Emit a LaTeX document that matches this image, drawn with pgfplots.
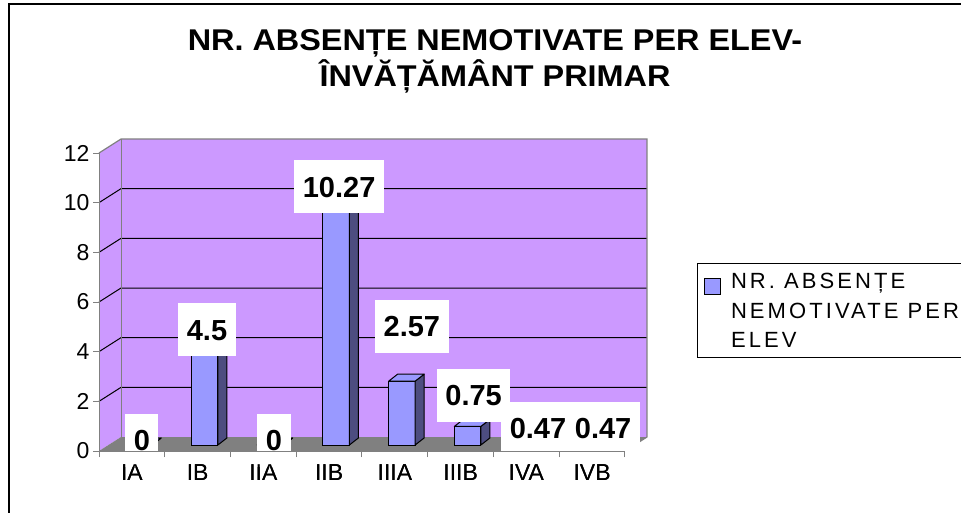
\documentclass[border=0pt]{standalone}
\usepackage{fontspec}
\setmainfont{Liberation Sans}
\newfontfamily\titlefont[FakeStretch=1.08]{Liberation Sans}
\newfontfamily\legfont[LetterSpace=14]{Liberation Sans}
\usepackage{pgfplots}
\usepackage{pgfplotstable}
\pgfplotsset{compat=1.18}

\definecolor{wallpurple}{RGB}{204,153,255}
\definecolor{barblue}{RGB}{153,153,255}
\definecolor{barside}{RGB}{77,77,128}
\definecolor{floorgray}{RGB}{128,128,128}

% offset of the back wall (3D depth)
\tikzset{bk/.style={xshift=22pt,yshift=14pt}}

\pgfplotsset{
    frontaxis/.style={
        at={(99pt,-451pt)}, anchor=south west,
        width=526pt, height=298pt, scale only axis,
        xmin=-0.5, xmax=7.5, ymin=0, ymax=12,
        clip=false,
        axis line style={draw=floorgray, line width=1pt},
        tick align=outside,
        xtick={0,...,7},
        xticklabels={IA,IB,IIA,IIB,IIIA,IIIB,IVA,IVB},
        major x tick style={draw=none},
        minor xtick={-0.5,0.5,...,7.5},
        minor x tick style={draw=floorgray, line width=1pt},
        minor tick length=6pt,
        ytick={0,2,...,12},
        major y tick style={draw=floorgray, line width=1pt},
        major tick length=6pt,
        tick label style={font=\fontsize{23}{27}\selectfont},
        xticklabel style={yshift=-4pt},
        /pgf/number format/assume math mode=true,
    },
}

% class index, value, label offset (pt)
\pgfplotstableread{
x  y      dx   dy
0  0      3    5
1  4.5    2.4  3.3
2  0      3.6  5
3  10.27  3    3
4  2.57   10   55
5  0.75   6    31
6  0.47   4.6  5
7  0.47   4    5
}\absente

\begin{document}
\begin{tikzpicture}
\useasboundingbox (0,0) rectangle (961pt,-512pt);
\clip (0,0) rectangle (961pt,-512pt);
\draw[line width=2.5pt, line join=miter] (9pt,-600pt) -- (9pt,-4pt) -- (1000pt,-4pt);

% walls, floor, y axis and title
\begin{axis}[
    frontaxis, axis on top,
    axis x line*=bottom, axis y line*=left,
    title={NR. ABSENȚE NEMOTIVATE PER ELEV-\\ÎNVĂȚĂMÂNT PRIMAR},
    title style={at={(0.7529,1.396)}, anchor=north, align=center, inner sep=0pt,
        font=\titlefont\bfseries\fontsize{30}{36}\selectfont},
]
\fill[wallpurple] ([bk]axis cs:-0.5,0) rectangle ([bk]axis cs:7.5,12);
\fill[wallpurple] (axis cs:-0.5,0) -- ([bk]axis cs:-0.5,0) -- ([bk]axis cs:-0.5,12)
    -- (axis cs:-0.5,12) -- cycle;
\fill[floorgray] (axis cs:-0.5,0) -- (axis cs:7.5,0) -- ([bk]axis cs:7.5,0)
    -- ([bk]axis cs:-0.5,0) -- cycle;
\pgfplotsinvokeforeach{2,4,6,8,10}{
    \draw[black, line width=1pt] (axis cs:-0.5,#1) -- ([bk]axis cs:-0.5,#1) -- ([bk]axis cs:7.5,#1);
}
\draw[floorgray, line width=1.2pt] (axis cs:-0.5,12) -- ([bk]axis cs:-0.5,12)
    -- ([bk]axis cs:7.5,12) -- ([bk]axis cs:7.5,0) -- (axis cs:7.5,0);
\draw[floorgray, line width=1pt] ([bk]axis cs:-0.5,0) -- ([bk]axis cs:-0.5,12);
\end{axis}

% bars, sitting half way into the depth
\begin{axis}[
    at={(106pt,-445pt)}, anchor=south west,
    width=526pt, height=298pt, scale only axis,
    xmin=-0.5, xmax=7.5, ymin=0, ymax=12,
    hide axis, clip=false,
    /pgf/number format/assume math mode=true,
    legend style={at={(1.1236,0.6107)}, anchor=north west, draw=black, line width=1pt,
        fill=white, font=\legfont\fontsize{22}{29.5}\selectfont,
        inner xsep=6pt, inner ysep=10pt,
        nodes={inner sep=0pt, text depth=}, cells={anchor=west}},
]
\addlegendimage{legend image code/.code={%
    \path[draw=none, fill=none] (0pt,-37pt) rectangle (27pt,37pt);
    \filldraw[fill=barblue, draw=black, line width=1pt] (0pt,16.5pt) rectangle (16pt,32.5pt);}}
\addlegendentry{\parbox[t]{250pt}{NR. ABSENȚE\\NEMOTIVATE PER\\ELEV}}

% side and top faces
\addplot[forget plot, scatter, only marks, mark=*, mark size=0pt,
    mark options={draw=none, fill=none},
    visualization depends on={\thisrow{y} \as \val},
    scatter/@pre marker code/.code={%
        \pgfmathsetmacro\barh{\val*298/12}%
        \filldraw[fill=barside, draw=black, line width=1pt, line join=round]
            (13.25pt,0pt) -- (22.25pt,7pt) -- (22.25pt,{7pt-\barh pt}) -- (13.25pt,{-\barh pt}) -- cycle;
        \filldraw[fill=barblue, draw=black, line width=1pt, line join=round]
            (-13.25pt,0pt) -- (13.25pt,0pt) -- (22.25pt,7pt) -- (-4.25pt,7pt) -- cycle;
    },
    scatter/@post marker code/.code={},
] table[x=x, y=y] {\absente};

% front faces and value labels
\addplot[forget plot, ybar, bar shift=0pt, bar width=26.5pt,
    fill=barblue, draw=black, line width=1pt,
    visualization depends on={\thisrow{dx} \as \ldx},
    visualization depends on={\thisrow{dy} \as \ldy},
    nodes near coords,
    every node near coord/.append style={anchor=center, xshift=\ldx pt, yshift=\ldy pt,
        fill=white, draw=none, text=black, font=\bfseries\fontsize{29}{33}\selectfont,
        inner xsep=8.5pt, inner ysep=16pt, text height=21pt, text depth=0pt},
] table[x=x, y=y] {\absente};
\end{axis}

% category axis again, over the value labels
\begin{axis}[
    frontaxis,
    axis x line*=bottom, axis y line=none,
]
\end{axis}
\end{tikzpicture}
\end{document}
